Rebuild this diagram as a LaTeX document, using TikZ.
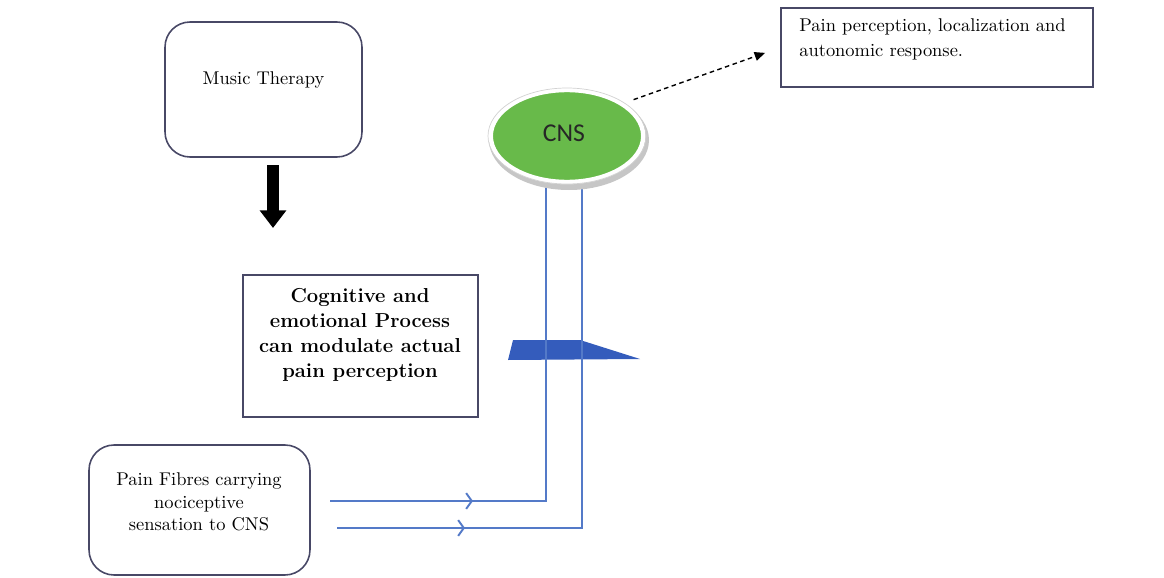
\documentclass[tikz,border=0pt]{standalone}
\usepackage{fontspec}
\newfontfamily\cnsfont{Carlito}
\usepackage{xcolor}
\usetikzlibrary{positioning,calc,arrows.meta,decorations.markings,shapes.geometric}

\definecolor{boxline}{RGB}{72,72,102}
\definecolor{fibreblue}{RGB}{84,122,200}
\definecolor{cnsgreen}{RGB}{104,186,74}
\definecolor{gateblue}{RGB}{52,92,188}

\begin{document}
\begin{tikzpicture}[x=0.02cm, y=-0.02cm,
  roundbox/.style={draw=boxline, line width=0.9pt, rounded corners=0.5cm, inner sep=0pt},
  plainbox/.style={draw=boxline, line width=0.9pt, inner sep=0pt},
  bodytext/.style={font=\fontsize{10.5}{14.5}\selectfont, align=center, inner sep=0pt},
  fibre/.style={draw=fibreblue, line width=1.1pt},
  marked/.style={postaction={decorate}, decoration={markings,
      mark=at position #1 with {\arrow{Straight Barb[length=3.2pt, width=9pt, line width=1.1pt]}}}}
]
  \useasboundingbox (0,0) rectangle (1164,578);

  % Boxes
  \node[roundbox, minimum width=3.94cm, minimum height=2.7cm] (music) at (263.5,89.5) {};
  \node[bodytext] (musictxt) at ([yshift=0.19cm]music.center) {Music Therapy};

  \node[plainbox, minimum width=6.24cm, minimum height=1.58cm] (percept) at (937,47.5) {};
  \node[bodytext, align=left, anchor=west] (percepttxt) at (799,39.5)
    {Pain perception, localization and\\autonomic response.};

  \node[plainbox, minimum width=4.7cm, minimum height=2.84cm] (cogn) at (360.5,346) {};
  \node[bodytext, font=\fontsize{11.5}{14.2}\selectfont\bfseries] (cogntxt) at (360,335)
    {Cognitive and\\emotional Process\\can modulate actual\\pain perception};

  \node[roundbox, minimum width=4.42cm, minimum height=2.6cm] (fibres) at (199.5,510) {};
  \node[bodytext, font=\fontsize{10.5}{12.8}\selectfont] (fibrestxt) at (199,502)
    {Pain Fibres carrying\\nociceptive\\sensation to CNS};

  % Music therapy arrow
  \coordinate (musicarrowtop) at (273,165);
  \coordinate (musicarrowtip) at (273,228);
  \draw[line width=6.8pt, -{Triangle[length=10pt, width=14.5pt]}] (musicarrowtop) -- (musicarrowtip);

  % Gate
  \fill[gateblue] (508,360) -- (513,340) -- (580,340) -- (640,359) -- cycle;

  % Fibres to CNS
  \coordinate (fibreonestart) at (330,501);
  \coordinate (fibreonetop) at (546,180);
  \coordinate (fibretwostart) at (337,528);
  \coordinate (fibretwotop) at (582,180);
  \draw[fibre, marked=2.86cm] (fibreonestart) -| (fibreonetop);
  \draw[fibre, marked=2.56cm] (fibretwostart) -| (fibretwotop);

  % CNS
  \fill[gray!45] (569,140) ellipse (80 and 50);
  \node[ellipse, draw=white, line width=2.5pt, fill=cnsgreen, minimum width=3.05cm, minimum height=1.84cm] (cns) at (567,136) {};
  \node[font=\cnsfont\fontsize{14.6}{16}\selectfont, text=black!85, inner sep=0pt] (cnstxt) at (564,133) {CNS};
  \draw[gray!35, line width=0.4pt] (567,136) ellipse (79 and 48);

  % Dashed arrow to perception box
  \draw[line width=0.8pt, dash pattern=on 2.6pt off 2pt, -{Triangle[length=6pt, width=5pt]},
    shorten <=0.2cm, shorten >=0.32cm] (cns.30) -- (percept.west);
\end{tikzpicture}
\end{document}
